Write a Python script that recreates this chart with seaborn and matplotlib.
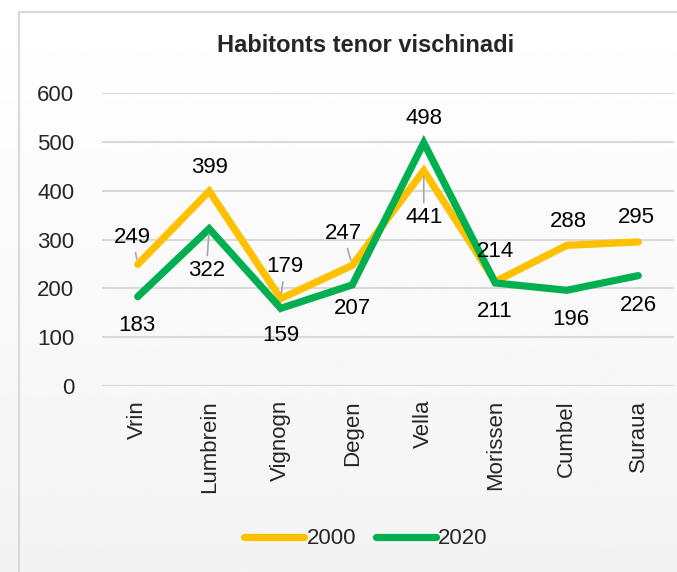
import numpy as np
import pandas as pd
import seaborn as sns
import matplotlib
matplotlib.use("Agg")
import matplotlib.pyplot as plt
from matplotlib import font_manager

# data
places = ['Vrin', 'Lumbrein', 'Vignogn', 'Degen', 'Vella', 'Morissen', 'Cumbel', 'Suraua']
years = ['2000', '2020']
pop_2000 = [249, 399, 179, 247, 441, 214, 288, 295]
pop_2020 = [183, 322, 159, 207, 498, 211, 196, 226]
yticks = [0, 100, 200, 300, 400, 500, 600]
title = 'Habitonts tenor vischinadi'

colors = {'2000': '#FFC000', '2020': '#00B050'}

# label placement (pixel offsets from the point) and leader-line flags
off_2000 = [(-5, 27), (0, 24), (4, 32), (-9, 32), (0, -47), (0, 30), (2, 24), (-2, 24)]
off_2020 = [(-1, -29), (-3, -42), (0, -27), (0, -24), (0, 24), (0, -29), (4, -29), (0, -30)]
lead_2000 = [True, False, True, True, True, False, False, False]
lead_2020 = [False, True, False, False, False, False, False, False]

names = [f.name for f in font_manager.fontManager.ttflist]
fam = 'Liberation Sans Narrow' if 'Liberation Sans Narrow' in names else 'Liberation Sans'

sns.set_style('white')
plt.rcParams['font.family'] = [fam, 'DejaVu Sans']
fs = 16

df = pd.DataFrame({
    'place': places * 2,
    'year': ['2000'] * len(places) + ['2020'] * len(places),
    'pop': pop_2000 + pop_2020,
})

fig = plt.figure(figsize=(6.77, 5.72), dpi=100)

# background gradient + frame
bg = fig.add_axes([0, 0, 1, 1], zorder=-10)
grad = np.linspace(1.0, 0.955, 256).reshape(-1, 1)
bg.imshow(grad, aspect='auto', cmap='gray', vmin=0, vmax=1, extent=[0, 1, 0, 1])
bg.plot([19 / 677, 19 / 677], [0, 1 - 12 / 572], color='#d9d9d9', lw=1.5)
bg.plot([19 / 677, 1], [1 - 12 / 572, 1 - 12 / 572], color='#d9d9d9', lw=1.5)
bg.set_xlim(0, 1)
bg.set_ylim(0, 1)
bg.axis('off')

ax = fig.add_axes([102 / 677, 1 - 386 / 572, 572 / 677, 293 / 572])
ax.patch.set_alpha(0)
sns.lineplot(data=df, x='place', y='pop', hue='year', palette=colors, sort=False,
             lw=5.2, ax=ax, legend=False)
for ln in ax.lines:
    ln.set_solid_capstyle('round')
    ln.set_solid_joinstyle('miter')

ax.set_ylim(0, 600)
ax.set_xlim(-0.5, len(places) - 0.5)
ax.set_yticks(yticks)
ax.set_yticklabels([str(v) for v in yticks], fontsize=fs)
ax.set_xticks(range(len(places)))
ax.set_xticklabels(places, rotation=90, fontsize=fs)
ax.tick_params(axis='y', length=0, pad=20)
ax.tick_params(axis='x', length=0, pad=10)
ax.grid(axis='y', color='#d9d9d9', lw=1.5)
ax.set_axisbelow(True)
ax.set_xlabel('')
ax.set_ylabel('')
for s in ax.spines.values():
    s.set_visible(False)

for vals, offs, leads in [(pop_2000, off_2000, lead_2000), (pop_2020, off_2020, lead_2020)]:
    for i, v in enumerate(vals):
        dx, dy = offs[i]
        kw = {}
        if leads[i]:
            kw['arrowprops'] = dict(arrowstyle='-', color='#a6a6a6', lw=1.2, shrinkA=1, shrinkB=4)
        ax.annotate(str(v), (i, v), xytext=(dx, dy), textcoords='offset pixels',
                    ha='center', va='center', fontsize=fs, color='black', **kw)

fig.text(366 / 677, 1 - 46 / 572, title, ha='center', va='center',
         fontsize=17, fontweight='bold')

handles = [plt.Line2D([], [], color=colors[y], lw=5.2, solid_capstyle='round') for y in years]
fig.legend(handles, years, loc='center', bbox_to_anchor=(366 / 677, 1 - 539 / 572),
           ncol=2, frameon=False, fontsize=fs, handlelength=2.7, handletextpad=0.1,
           columnspacing=0.9)

fig.savefig('out.png', dpi=100)
